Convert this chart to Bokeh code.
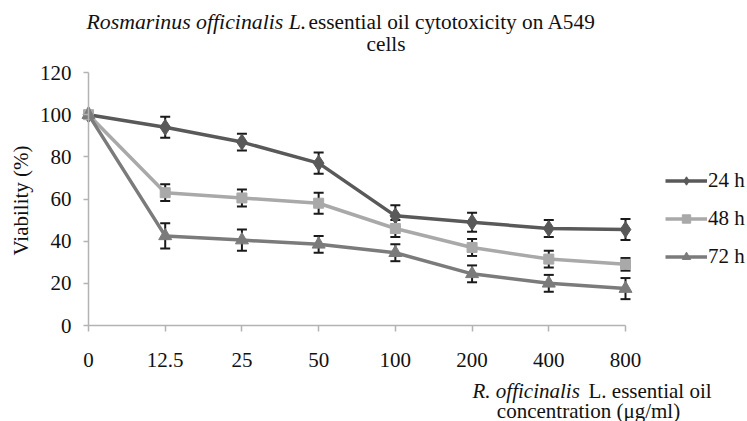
import math
from bokeh.plotting import figure
from bokeh.models import (ColumnDataSource, Whisker, TeeHead, Label, Legend, LegendItem,
                          FixedTicker, Range1d)
from bokeh.embed import file_html
from bokeh.resources import INLINE

# ---- data ----
concentrations = ["0", "12.5", "25", "50", "100", "200", "400", "800"]
v24 = [100, 94, 87, 77, 52, 49, 46, 45.5]
e24 = [0, 5, 4, 5, 5, 4.5, 4, 5]
v48 = [100, 63, 60.5, 58, 46, 37, 31.5, 29]
e48 = [0, 4, 4, 5, 4, 4, 4, 3]
v72 = [100, 42.5, 40.5, 38.5, 34.5, 24.5, 20, 17.5]
e72 = [0, 6, 5, 4, 4, 4, 4, 5]
series_names = ["24 h", "48 h", "72 h"]
y_ticks = [0, 20, 40, 60, 80, 100, 120]

FONT = "Liberation Serif"
FS = "21px"
W, H = 747, 421
# plot-area edges in page pixels
PL, PR, PT, PB = 88, 625, 72, 325
NX = len(concentrations) - 1
YMAX = 120
sx = (PR - PL) / NX
sy = (PB - PT) / YMAX

p = figure(width=W, height=H, output_backend="svg", toolbar_location=None,
           x_range=Range1d(-PL / sx, NX + (W - PR) / sx),
           y_range=Range1d(-(H - PB) / sy, YMAX + PT / sy),
           min_border=0)
p.outline_line_color = None
p.xgrid.visible = False
p.ygrid.visible = False

xs = list(range(len(concentrations)))
colors = ["#595959", "#a9a9a9", "#7b7b7b"]
markers = ["diamond", "square", "triangle"]
msizes = [16, 10, 13]
items = []
for name, vals, errs, c, m, ms in zip(series_names, [v24, v48, v72], [e24, e48, e72],
                                     colors, markers, msizes):
    src = ColumnDataSource(dict(x=xs, y=vals))
    r1 = p.line("x", "y", source=src, line_color=c, line_width=3.5)
    r2 = p.scatter("x", "y", source=src, marker=m, size=ms, fill_color=c, line_color=c)
    items.append(LegendItem(label=name, renderers=[r1, r2]))
    src_e = ColumnDataSource(dict(x=xs[1:],
                                  lo=[v - e for v, e in zip(vals[1:], errs[1:])],
                                  hi=[v + e for v, e in zip(vals[1:], errs[1:])]))
    p.add_layout(Whisker(base="x", lower="lo", upper="hi", source=src_e,
                         line_color="#1a1a1a", line_width=2,
                         upper_head=TeeHead(size=10, line_color="#1a1a1a", line_width=2),
                         lower_head=TeeHead(size=10, line_color="#1a1a1a", line_width=2)))

for ax in (p.xaxis[0], p.yaxis[0]):
    ax.fixed_location = 0
    ax.axis_line_color = "#b3b3b3"
    ax.axis_line_width = 1.5
    ax.major_tick_line_color = "#b3b3b3"
    ax.major_tick_line_width = 1.5
    ax.minor_tick_line_color = None
    ax.major_tick_in = 0
    ax.major_label_text_font = FONT
    ax.major_label_text_font_size = FS
    ax.major_label_text_color = "#111111"
p.xaxis.bounds = (0, NX)
p.xaxis.ticker = FixedTicker(ticks=xs)
p.xaxis.major_label_overrides = {i: s for i, s in enumerate(concentrations)}
p.xaxis.major_tick_out = 6
p.xaxis.major_label_standoff = 21
p.yaxis.bounds = (0, YMAX)
p.yaxis.ticker = FixedTicker(ticks=y_ticks)
p.yaxis.major_tick_out = 5
p.yaxis.major_label_standoff = 12

legend = Legend(items=items, location=(665, H - 269), orientation="vertical",
                glyph_width=42, glyph_height=21, label_height=21, spacing=13,
                padding=0, margin=0, border_line_color=None,
                background_fill_alpha=0, label_text_font=FONT,
                label_text_font_size=FS, label_text_color="#111111", label_standoff=1)
p.add_layout(legend)


def txt(s, x, baseline, style="normal", align="left", size=FS):
    p.add_layout(Label(x=x, y=H - baseline, x_units="screen", y_units="screen",
                       text=s, text_font=FONT, text_font_size=size,
                       text_font_style=style, text_align=align,
                       text_baseline="alphabetic", text_color="#111111"))


# title
txt("Rosmarinus officinalis L.", 86, 21, "italic", size="21.8px")
txt("essential oil cytotoxicity on A549", 308, 21, size="21.3px")
txt("cells", 366, 43, size="21.3px")
# x axis title
txt("R. officinalis", 472, 390, "italic")
txt("L. essential oil", 588, 390)
txt("concentration (\u03bcg/ml)", 588, 410, align="center")
# y axis title (rotated)
p.add_layout(Label(x=20, y=H - 200, x_units="screen", y_units="screen",
                   text="Viability (%)", text_font=FONT, text_font_size=FS,
                   text_align="center", text_baseline="alphabetic",
                   angle=math.pi / 2, text_color="#111111"))

open("out.html", "w").write(file_html(p, INLINE))
